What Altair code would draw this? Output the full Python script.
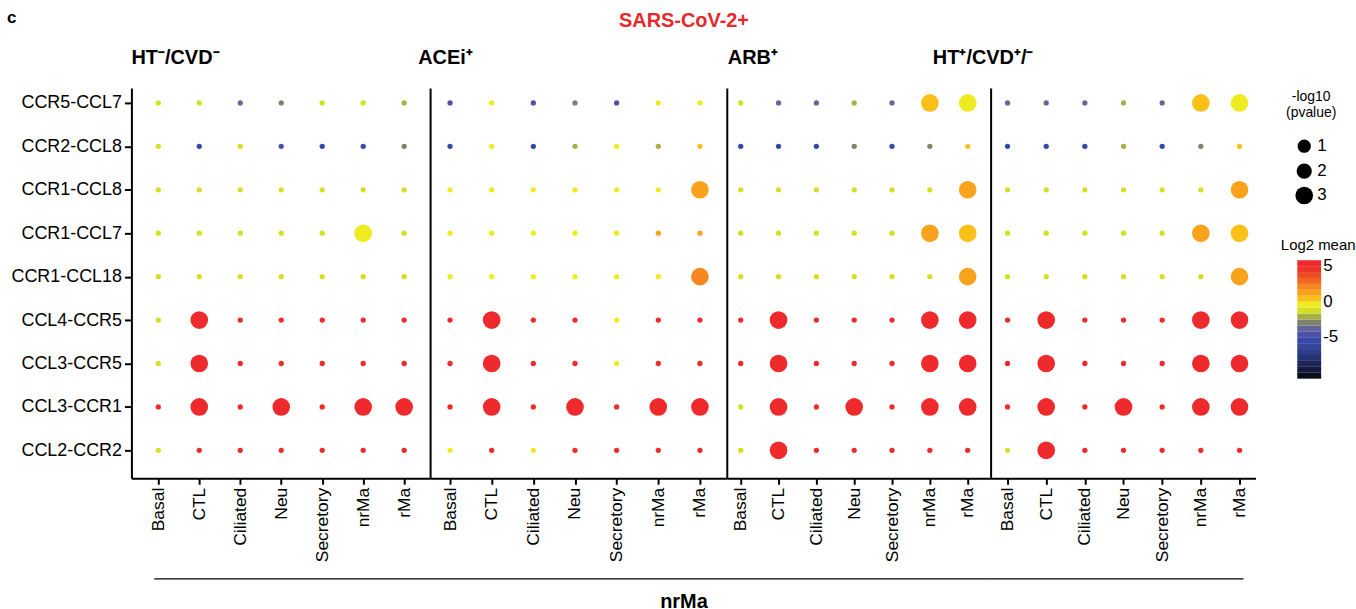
import altair as alt
import pandas as pd

# Cell types (columns in every panel) and ligand-receptor pairs (rows)
cells = ["Basal", "CTL", "Ciliated", "Neu", "Secretory", "nrMa", "rMa"]
pairs = ["CCR5-CCL7", "CCR2-CCL8", "CCR1-CCL8", "CCR1-CCL7", "CCR1-CCL18",
         "CCL4-CCR5", "CCL3-CCR5", "CCL3-CCR1", "CCL2-CCR2"]
groups = ["HT⁻/CVD⁻", "ACEi⁺", "ARB⁺", "HT⁺/CVD⁺/⁻"]

# Log2 mean expression, one row per pair, one column per cell type
mean_ht_neg = [
    [-1.2, -1.1, -3.7, -2.9, -1.2, -1.1, -2.0],
    [-1.2, -5.4, -1.1, -4.6, -5.4, -5.4, -2.9],
    [-1.1, -1.2, -1.1, -1.2, -1.1, -1.2, -1.1],
    [-1.2, -1.1, -1.2, -1.1, -1.2, -0.3, -1.1],
    [-1.1, -1.2, -1.1, -1.2, -1.1, -1.2, -1.1],
    [-1.2, 5.4, 5.3, 5.4, 5.3, 5.4, 5.3],
    [-1.2, 5.4, 5.3, 5.4, 5.3, 5.4, 5.3],
    [5.3, 5.4, 5.3, 5.4, 5.3, 5.4, 5.4],
    [-1.2, 5.3, 5.4, 5.3, 5.4, 5.3, 5.4],
]
mean_acei = [
    [-4.5, -0.4, -4.6, -2.9, -4.5, -0.4, -0.3],
    [-5.4, -0.3, -5.4, -2.1, -0.4, -2.0, 0.4],
    [-0.4, -0.3, -0.4, -0.3, -0.4, -0.3, 1.3],
    [-0.4, -0.3, -0.4, -0.3, -0.4, 1.0, 1.0],
    [-0.4, -0.3, -0.4, -0.3, -0.4, -0.3, 2.1],
    [5.3, 5.4, 5.3, 5.4, -0.3, 5.3, 5.4],
    [5.3, 5.4, 5.3, 5.4, -0.3, 5.3, 5.4],
    [5.3, 5.4, 5.3, 5.4, 5.3, 5.4, 5.4],
    [-0.4, 5.3, -0.3, 5.4, 5.3, 5.4, 5.3],
]
mean_arb = [
    [-1.2, -3.6, -3.8, -2.1, -3.8, 0.4, -0.3],
    [-5.4, -5.4, -5.4, -2.8, -5.4, -2.9, 0.5],
    [-1.1, -1.2, -1.1, -1.2, -1.1, -1.2, 1.3],
    [-1.2, -1.1, -1.2, -1.1, -1.2, 1.3, 0.5],
    [-1.1, -1.2, -1.1, -1.2, -1.1, -1.2, 1.3],
    [5.3, 5.4, 5.3, 5.4, 5.3, 5.4, 5.4],
    [5.3, 5.4, 5.3, 5.4, 5.3, 5.4, 5.4],
    [-1.2, 5.4, 5.3, 5.4, 5.3, 5.4, 5.4],
    [-1.2, 5.4, 5.3, 5.4, 5.3, 5.4, 5.3],
]
mean_ht_pos = [
    [-3.8, -3.7, -3.8, -2.1, -3.8, 0.4, -0.3],
    [-5.4, -5.4, -5.4, -2.0, -5.4, -2.9, 0.5],
    [-1.1, -1.2, -1.1, -1.2, -1.1, -1.2, 1.3],
    [-1.2, -1.1, -1.2, -1.1, -1.2, 1.3, 0.5],
    [-1.1, -1.2, -1.1, -1.2, -1.1, -1.2, 1.3],
    [5.3, 5.4, 5.3, 5.4, 5.3, 5.4, 5.4],
    [5.3, 5.4, 5.3, 5.4, 5.3, 5.4, 5.4],
    [5.3, 5.4, 5.3, 5.4, 5.3, 5.4, 5.4],
    [-1.2, 5.4, 5.3, 5.4, 5.3, 5.4, 5.3],
]

# -log10(p value), same layout
nlp_ht_neg = [
    [0, 0, 0, 0, 0, 0, 0],
    [0, 0, 0, 0, 0, 0, 0],
    [0, 0, 0, 0, 0, 0, 0],
    [0, 0, 0, 0, 0, 3, 0],
    [0, 0, 0, 0, 0, 0, 0],
    [0, 3, 0, 0, 0, 0, 0],
    [0, 3, 0, 0, 0, 0, 0],
    [0, 3, 0, 3, 0, 3, 3],
    [0, 0, 0, 0, 0, 0, 0],
]
nlp_acei = [
    [0, 0, 0, 0, 0, 0, 0],
    [0, 0, 0, 0, 0, 0, 0],
    [0, 0, 0, 0, 0, 0, 3],
    [0, 0, 0, 0, 0, 0, 0],
    [0, 0, 0, 0, 0, 0, 3],
    [0, 3, 0, 0, 0, 0, 0],
    [0, 3, 0, 0, 0, 0, 0],
    [0, 3, 0, 3, 0, 3, 3],
    [0, 0, 0, 0, 0, 0, 0],
]
nlp_arb = [
    [0, 0, 0, 0, 0, 3, 3],
    [0, 0, 0, 0, 0, 0, 0],
    [0, 0, 0, 0, 0, 0, 3],
    [0, 0, 0, 0, 0, 3, 3],
    [0, 0, 0, 0, 0, 0, 3],
    [0, 3, 0, 0, 0, 3, 3],
    [0, 3, 0, 0, 0, 3, 3],
    [0, 3, 0, 3, 0, 3, 3],
    [0, 3, 0, 0, 0, 0, 0],
]
nlp_ht_pos = [
    [0, 0, 0, 0, 0, 3, 3],
    [0, 0, 0, 0, 0, 0, 0],
    [0, 0, 0, 0, 0, 0, 3],
    [0, 0, 0, 0, 0, 3, 3],
    [0, 0, 0, 0, 0, 0, 3],
    [0, 3, 0, 0, 0, 3, 3],
    [0, 3, 0, 0, 0, 3, 3],
    [0, 3, 0, 3, 0, 3, 3],
    [0, 3, 0, 0, 0, 0, 0],
]

means = [mean_ht_neg, mean_acei, mean_arb, mean_ht_pos]
nlps = [nlp_ht_neg, nlp_acei, nlp_arb, nlp_ht_pos]

# Stepped palette for log2 mean, low to high
palette = ["#0a0d1c", "#141a3e", "#1d2558", "#263271", "#2d3c86", "#34469a",
           "#3749a8", "#4c50a6", "#64669a", "#7e846a", "#a6b042", "#d4e024",
           "#eeec20", "#fbc018", "#f9a21c", "#f6861f", "#f26624", "#f04b27",
           "#ee3529", "#ee2a2c"]

FONT = "Liberation Sans"

# Per-panel geometry: plot width, point-scale padding/align, title shift,
# span of the bottom rule
widths = [300, 298, 265, 266]
x_padding = [0.644, 0.562, 0.487, 0.425]
x_align = [0.509, 0.426, 0.378, 0.515]
title_dx = [0, -12, 1, -58]
rule_span = [[23, 300], [0, 298], [0, 265], [0, 254]]
H = 392

color_scale = alt.Scale(type="quantize", domain=[-10.8333, 5.8333],
                        range=palette, nice=False)
size_scale = alt.Scale(domain=[0, 1, 2, 3], range=[28, 177, 235, 314])

label_expr = ("abs(datum.value - 5) < 0.01 ? '5' : abs(datum.value) < 0.01 ? '0' : "
              "abs(datum.value + 5) < 0.01 ? '-5' : ''")

one = pd.DataFrame({"k": [0]})

panels = []
for i, name in enumerate(groups):
    rows = []
    for r, pair in enumerate(pairs):
        for c, cell in enumerate(cells):
            rows.append({"pair": pair, "cell": cell,
                         "mean": means[i][r][c], "nlp": nlps[i][r][c]})
    df = pd.DataFrame(rows)

    if i == 0:
        y_axis = alt.Axis(title=None, labelFontSize=18, labelFont=FONT,
                          labelColor="black", tickSize=7, tickWidth=2,
                          tickColor="black", domainColor="black",
                          domainWidth=2, labelPadding=3)
    else:
        y_axis = alt.Axis(title=None, labels=False, ticks=False,
                          domainColor="black", domainWidth=2)

    dots = alt.Chart(df).mark_circle(opacity=1).encode(
        x=alt.X("cell:N", sort=cells, title=None,
                scale=alt.Scale(type="point", domain=cells,
                                padding=x_padding[i], align=x_align[i]),
                axis=alt.Axis(labelAngle=270, labelFontSize=17.5, labelFont=FONT,
                              labelColor="black", tickSize=6, tickWidth=2,
                              tickColor="black", domainColor="black",
                              domainWidth=2, labelPadding=3)),
        y=alt.Y("pair:N", sort=pairs, title=None,
                scale=alt.Scale(type="point", domain=pairs,
                                padding=0.493, align=0.349),
                axis=y_axis),
        color=alt.Color("mean:Q", scale=color_scale,
                        legend=alt.Legend(title="Log2 mean", type="gradient",
                                          direction="vertical",
                                          gradientLength=119,
                                          gradientThickness=24,
                                          gradientStrokeWidth=0,
                                          labelExpr=label_expr,
                                          labelFontSize=17, labelFont=FONT,
                                          labelColor="black",
                                          titleFontSize=15, titleFont=FONT,
                                          titleFontWeight="normal",
                                          titleColor="black",
                                          titleAlign="center",
                                          titleAnchor="middle",
                                          titlePadding=7,
                                          orient="none", legendX=1154,
                                          legendY=151)),
        size=alt.Size("nlp:Q", scale=size_scale,
                      legend=alt.Legend(title=["-log10", "(pvalue)"],
                                        values=[1, 2, 3], format="d",
                                        symbolFillColor="black",
                                        symbolStrokeWidth=0,
                                        symbolOpacity=1,
                                        labelFontSize=17, labelFont=FONT,
                                        labelColor="black", labelOffset=4,
                                        rowPadding=7,
                                        titleFontSize=14, titleFont=FONT,
                                        titleFontWeight="normal",
                                        titleColor="black",
                                        titleAlign="center",
                                        titleAnchor="middle",
                                        titlePadding=18,
                                        orient="none", legendX=1160,
                                        legendY=2)),
    )

    title = alt.Chart(one).mark_text(
        text=name, align="left", baseline="alphabetic", font=FONT,
        fontSize=20, fontWeight="bold", color="black"
    ).encode(x=alt.value(title_dx[i]), y=alt.value(-24))

    rule = alt.Chart(one).mark_rule(color="black", strokeWidth=1.3).encode(
        x=alt.value(rule_span[i][0]), x2=alt.value(rule_span[i][1]),
        y=alt.value(H + 101))

    layers = [dots, title, rule]
    if i == 0:
        layers.append(alt.Chart(one).mark_text(
            text="c", align="left", baseline="middle", font=FONT,
            fontSize=17, fontWeight="bold", color="black"
        ).encode(x=alt.value(-125), y=alt.value(-70)))
    if i == 1:
        layers.append(alt.Chart(one).mark_text(
            text="SARS-CoV-2+", align="center", baseline="middle", font=FONT,
            fontSize=20, fontWeight="bold", color="#e8282b"
        ).encode(x=alt.value(255), y=alt.value(-67)))
        layers.append(alt.Chart(one).mark_text(
            text="nrMa", align="center", baseline="middle", font=FONT,
            fontSize=20, fontWeight="bold", color="black"
        ).encode(x=alt.value(255), y=alt.value(H + 124)))

    panels.append(alt.layer(*layers).properties(width=widths[i], height=H))

chart = alt.hconcat(*panels, spacing=0, bounds="flush").resolve_scale(
    color="shared", size="shared"
).configure_view(stroke=None).properties(
    padding={"left": 7, "top": 8, "right": 0, "bottom": 0},
    background="white"
)

chart.save("out.html", embed_options={"renderer": "svg", "actions": False})
